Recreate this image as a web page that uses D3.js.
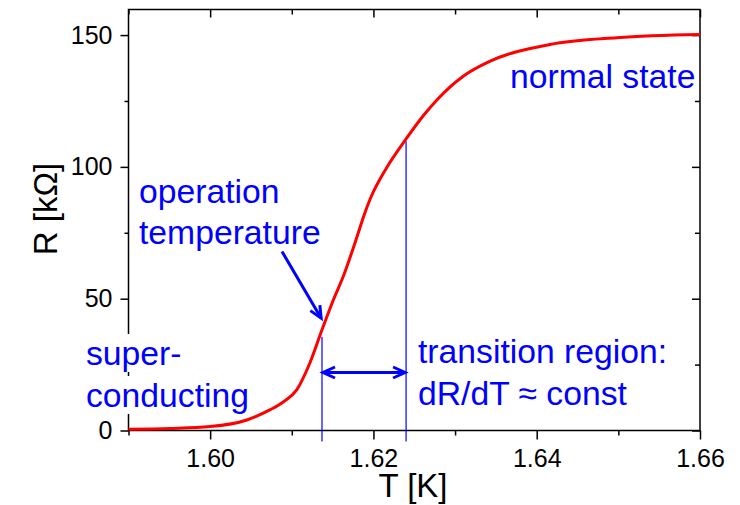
<!DOCTYPE html>
<html>
<head>
<meta charset="utf-8">
<script src="https://cdn.jsdelivr.net/npm/d3@7"></script>
<style>
  body { margin: 0; background: #fff; }
  svg { font-family: Arial, "Liberation Sans", Helvetica, sans-serif; }
</style>
</head>
<body>
<div class="container"></div>
<script>
// R(T) curve
const temps = [1.5900, 1.5951, 1.6000, 1.6045, 1.6073, 1.6090, 1.6106, 1.6122, 1.6137, 1.6151,
               1.6163, 1.6180, 1.6188, 1.6196, 1.6216, 1.6240, 1.6261, 1.6278, 1.6310, 1.6343,
               1.6416, 1.6498, 1.6600];
const resist = [0.5, 0.8, 1.5, 4.0, 7.8, 10.9, 15.4, 25.5, 38.2, 49.6,
                58.4, 73.6, 81.2, 87.8, 99.6, 110.6, 119.4, 125.5, 134.4, 140.1,
                146.4, 149.0, 150.2];

const xMajor = [1.60, 1.62, 1.64, 1.66];
const xMinor = [1.59, 1.61, 1.63, 1.65];
const yMajor = [0, 50, 100, 150];
const yMinor = [25, 75, 125];

// operation temperature and upper end of linear region
const markT = [1.6137, 1.6240];
const markR = [35.6, 109.7];
const spanR = 22;

const width = 740;
const height = 505;
const margin = { top: 9.5, right: 40, bottom: 74.5, left: 128.5 };

const svg = d3.select(".container")
    .append("svg")
    .attr("width", width)
    .attr("height", height);

const x = d3.scaleLinear().domain([1.59, 1.66]).range([margin.left, width - margin.right]);
const y = d3.scaleLinear().domain([0, 159.7]).range([height - margin.bottom, margin.top]);

const blue = "#0000ff";

// frame
svg.append("rect")
    .attr("x", x(1.59)).attr("y", y(159.7))
    .attr("width", x(1.66) - x(1.59)).attr("height", y(0) - y(159.7))
    .attr("fill", "none").attr("stroke", "#000").attr("stroke-width", 1.5);

function styleAxis(g) {
    g.select(".domain").remove();
    g.selectAll(".tick line").attr("stroke", "#000").attr("stroke-width", 1.5);
    g.selectAll("text").attr("font-size", 25).attr("fill", "#000");
}

// bottom
svg.append("g").attr("transform", `translate(0,${y(0)})`)
    .call(d3.axisBottom(x).tickValues(xMajor).tickFormat(d3.format(".2f")).tickSize(9).tickPadding(10))
    .call(styleAxis);
svg.append("g").attr("transform", `translate(0,${y(0)})`)
    .call(d3.axisBottom(x).tickValues(xMinor).tickFormat("").tickSize(5))
    .call(styleAxis);
// top (inward)
svg.append("g").attr("transform", `translate(0,${y(159.7)})`)
    .call(d3.axisBottom(x).tickValues(xMajor).tickFormat("").tickSize(8))
    .call(styleAxis);
svg.append("g").attr("transform", `translate(0,${y(159.7)})`)
    .call(d3.axisBottom(x).tickValues(xMinor).tickFormat("").tickSize(5))
    .call(styleAxis);
// left
svg.append("g").attr("transform", `translate(${x(1.59)},0)`)
    .call(d3.axisLeft(y).tickValues(yMajor).tickFormat(d3.format("d")).tickSize(8).tickPadding(8))
    .call(styleAxis);
svg.append("g").attr("transform", `translate(${x(1.59)},0)`)
    .call(d3.axisLeft(y).tickValues(yMinor).tickFormat("").tickSize(4))
    .call(styleAxis);
// right (inward)
svg.append("g").attr("transform", `translate(${x(1.66)},0)`)
    .call(d3.axisLeft(y).tickValues(yMajor).tickFormat("").tickSize(8))
    .call(styleAxis);
svg.append("g").attr("transform", `translate(${x(1.66)},0)`)
    .call(d3.axisLeft(y).tickValues(yMinor).tickFormat("").tickSize(5))
    .call(styleAxis);

// axis titles
svg.append("text")
    .attr("x", 413).attr("y", 497)
    .attr("text-anchor", "middle").attr("font-size", 33)
    .text("T [K]");
svg.append("text")
    .attr("transform", "translate(57,209) rotate(-90)")
    .attr("text-anchor", "middle").attr("font-size", 33)
    .text("R [kΩ]");

// labels with white boxes
const labels = [
    { text: "normal state", x: 510, y: 88 },
    { text: "operation", x: 139, y: 203 },
    { text: "temperature", x: 139, y: 244 },
    { text: "super-", x: 86, y: 365 },
    { text: "conducting", x: 86, y: 407 },
    { text: "transition region:", x: 418, y: 363 },
    { text: "dR/dT ≈ const", x: 418, y: 405 }
];
const lab = svg.append("g");
labels.forEach(l => {
    const t = lab.append("text")
        .attr("x", l.x).attr("y", l.y)
        .attr("font-size", 33.7).attr("fill", blue)
        .text(l.text);
    const b = t.node().getBBox();
    lab.insert("rect", "text")
        .attr("x", b.x).attr("y", b.y).attr("width", b.width).attr("height", b.height)
        .attr("fill", "#fff");
});

// marker lines
svg.selectAll(".mark").data(markT).join("line")
    .attr("x1", d => x(d)).attr("x2", d => x(d))
    .attr("y1", (d, i) => y(markR[i])).attr("y2", y(-4.2))
    .attr("stroke", blue).attr("stroke-width", 1.2);

// curve
const line = d3.line().x((d, i) => x(temps[i])).y(d => y(d)).curve(d3.curveMonotoneX);
svg.append("path")
    .datum(resist)
    .attr("d", line)
    .attr("fill", "none")
    .attr("stroke", "#ff0000")
    .attr("stroke-width", 3)
    .attr("stroke-linejoin", "round");

// arrows
function chevron(x1, y1, x2, y2) {
    const a = Math.atan2(y2 - y1, x2 - x1);
    const L = 12, W = 5.5;
    const p = [
        [x2 - L * Math.cos(a) + W * Math.sin(a), y2 - L * Math.sin(a) - W * Math.cos(a)],
        [x2, y2],
        [x2 - L * Math.cos(a) - W * Math.sin(a), y2 - L * Math.sin(a) + W * Math.cos(a)]
    ];
    svg.append("path").attr("d", d3.line()(p))
        .attr("fill", "none").attr("stroke", blue).attr("stroke-width", 3)
        .attr("stroke-linejoin", "miter");
}
function arrow(x1, y1, x2, y2, both) {
    svg.append("line")
        .attr("x1", x1).attr("y1", y1).attr("x2", x2).attr("y2", y2)
        .attr("stroke", blue).attr("stroke-width", 3);
    chevron(x1, y1, x2, y2);
    if (both) chevron(x2, y2, x1, y1);
}
arrow(x(markT[0]) + 1, y(spanR), x(markT[1]) - 1, y(spanR), true);
arrow(x(1.6088), y(67.9), x(1.6136), y(42.6), false);
</script>
</body>
</html>
